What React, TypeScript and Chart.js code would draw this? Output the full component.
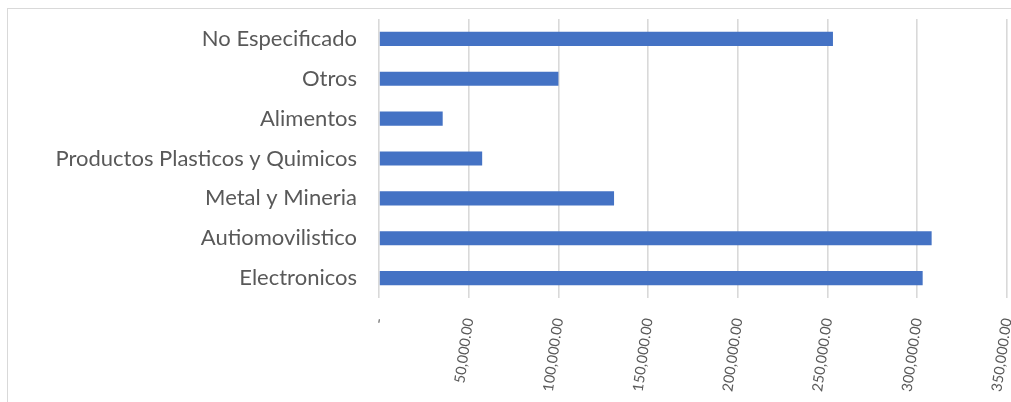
import React, { useEffect, useRef } from "react";
import { Chart, registerables } from "chart.js";

Chart.register(...registerables);

const categories = [
  "No Especificado",
  "Otros",
  "Alimentos",
  "Productos Plasticos y Quimicos",
  "Metal y Mineria",
  "Autiomovilistico",
  "Electronicos",
];
const values = [253000, 100000, 35500, 57500, 131000, 308000, 303000];
const axisMin = 0;
const axisMax = 350000;
const axisStep = 50000;

const fontFamily = "Lato, 'Open Sans', sans-serif";

export default function App() {
  const ref = useRef<HTMLCanvasElement | null>(null);
  useEffect(() => {
    if (!ref.current) return;
    const chart = new Chart(ref.current, {
      type: "bar",
      data: {
        labels: categories,
        datasets: [
          {
            data: values,
            backgroundColor: "#4472C4",
            borderWidth: 0,
            barPercentage: 0.355,
            categoryPercentage: 1,
          },
        ],
      },
      options: {
        indexAxis: "y",
        animation: false,
        responsive: false,
        maintainAspectRatio: false,
        layout: { padding: { top: 19, right: 4, bottom: 0, left: 0 } },
        plugins: { legend: { display: false }, tooltip: { enabled: false } },
        scales: {
          x: {
            min: axisMin,
            max: axisMax,
            afterFit: (s: any) => {
              s.height = 104;
              s.paddingLeft = 0;
              s.paddingRight = 0;
            },
            ticks: {
              stepSize: axisStep,
              minRotation: 82,
              maxRotation: 82,
              padding: 19,
              color: "#595959",
              font: { family: fontFamily, size: 14.5 },
              callback: (v: any) =>
                Number(v) === 0
                  ? "-"
                  : Number(v).toLocaleString("en-US", {
                      minimumFractionDigits: 2,
                      maximumFractionDigits: 2,
                    }),
            },
            grid: { color: "#d9d9d9", lineWidth: 1.6, drawTicks: false },
            border: { display: false },
          },
          y: {
            afterFit: (s: any) => {
              s.width = 379;
              s.paddingTop = 0;
              s.paddingBottom = 0;
            },
            ticks: {
              padding: 22,
              color: "#595959",
              font: { family: fontFamily, size: 22 },
            },
            grid: { display: false, drawTicks: false },
            border: { display: false },
          },
        },
      },
    });
    return () => chart.destroy();
  }, []);
  return (
    <div
      style={{
        position: "fixed",
        left: 0,
        top: 0,
        width: 1011,
        height: 402,
        overflow: "hidden",
        background: "#fff",
      }}
    >
      <div
        style={{
          position: "absolute",
          left: 7,
          top: 8,
          width: 1200,
          height: 600,
          border: "1px solid #d9d9d9",
          boxSizing: "border-box",
        }}
      />
      <canvas
        ref={ref}
        width={1011}
        height={402}
        style={{ position: "absolute", left: 0, top: 0, width: 1011, height: 402 }}
      />
    </div>
  );
}
